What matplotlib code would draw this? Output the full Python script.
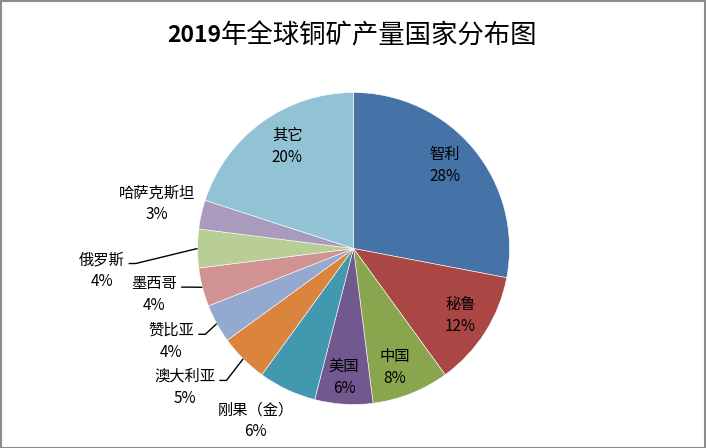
import numpy as np
import matplotlib
matplotlib.use("Agg")
import matplotlib.pyplot as plt
from matplotlib.patches import Rectangle

plt.rcParams['font.family'] = ['Noto Sans CJK SC', 'DejaVu Sans']

# ---- data ----
countries = ["智利", "秘鲁", "中国", "美国", "刚果（金）", "澳大利亚", "赞比亚", "墨西哥", "俄罗斯", "哈萨克斯坦", "其它"]
shares = [28, 12, 8, 6, 6, 5, 4, 4, 4, 3, 20]
pct_labels = ["28%", "12%", "8%", "6%", "6%", "5%", "4%", "4%", "4%", "3%", "20%"]
title_num = "2019"
title_rest = "年全球铜矿产量国家分布图"

# ---- style / layout ----
colors = ["#4572A7", "#AA4643", "#89A54E", "#71588F", "#4198AF", "#DB843D",
          "#93A9CF", "#D19392", "#B9CD96", "#A99BBD", "#92C3D5"]
label_factor = [0.79, 0.81, 0.81, 0.83, 1.27, 1.40, 1.31, 1.31, 1.62, 1.29, 0.78]
label_offset = [-2.8, -0.3, 2.4, 0.6, 4.5, 5.5, 1.8, 1.5, -5.0, 0.2, 3.0]
leader = [False, False, False, False, False, True, True, True, True, False, False]

W, H = 706, 448
fig = plt.figure(figsize=(W / 100, H / 100), dpi=100)
ax = fig.add_axes([0, 0, 1, 1])
cx, cy, R = 353.5, H - 248.5, 156

ax.pie(shares, colors=colors, startangle=90, counterclock=False,
       center=(cx, cy), radius=R,
       wedgeprops=dict(linewidth=0.4, edgecolor="white"))
ax.set_xlim(0, W)
ax.set_ylim(0, H)
ax.set_aspect('equal')
ax.axis('off')

fracs = np.array(shares, dtype=float) / np.sum(shares)
starts = np.concatenate([[0], np.cumsum(fracs)[:-1]]) * 360
mids = starts + fracs * 180

fs = 11
half = 11
name_texts = []
for i, name in enumerate(countries):
    th = np.deg2rad(mids[i] + label_offset[i])
    lx = cx + label_factor[i] * R * np.sin(th)
    ly = cy + label_factor[i] * R * np.cos(th)
    t = ax.text(lx, ly + half, name, ha='center', va='center', fontsize=fs, color='black')
    ax.text(lx, ly - half, pct_labels[i], ha='center', va='center', fontsize=fs, color='black')
    name_texts.append(t)

fig.canvas.draw()
renderer = fig.canvas.get_renderer()
inv = ax.transData.inverted()
for i, t in enumerate(name_texts):
    if not leader[i]:
        continue
    bb = t.get_window_extent(renderer)
    x0, y0 = inv.transform((bb.x1, (bb.y0 + bb.y1) / 2))
    sx, sy = x0 + 4, y0 - 4
    th = np.deg2rad(mids[i])
    ex = cx + R * np.sin(th)
    ey = cy + R * np.cos(th)
    ax.plot([sx, sx + 7, ex], [sy, sy, ey], color='black', lw=1.0, solid_capstyle='butt')

# title
fig.text(221 / W, 1 - 36 / H, title_num, ha='right', va='center', fontsize=16.5, fontweight='bold')
fig.text(221 / W, 1 - 36 / H, title_rest, ha='left', va='center', fontsize=19)

# chart border
fig.patches.append(Rectangle((0.5 / W, 0.5 / H), 1 - 1.5 / W, 1 - 1.5 / H, transform=fig.transFigure,
                             fill=False, edgecolor='#8c8c8c', lw=1.5))

fig.savefig("out.png", dpi=100)
